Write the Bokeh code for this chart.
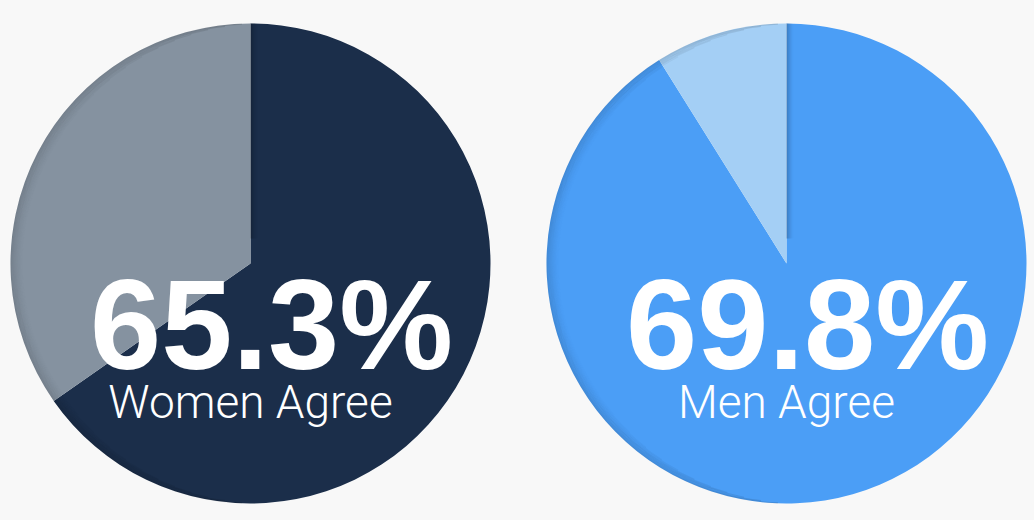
import numpy as np
from bokeh.plotting import figure
from bokeh.models import Range1d, ColumnDataSource
from bokeh.core.properties import value
from bokeh.embed import file_html
from bokeh.resources import INLINE

# ---- data ----
groups = ["Women", "Men"]
agree_labels = ["65.3%", "69.8%"]
subtitles = ["Women Agree", "Men Agree"]
pie_share = [65.3, 91.1]          # share of the main slice as drawn (%)
main_colors = ["#1b2e4a", "#4b9ef6"]
rest_colors = ["#8592a0", "#a4cff5"]

BG = "#f8f8f8"
W, H = 1034, 520
centers_x = [250, 786]
CY = 257
R = 240

p = figure(width=W, height=H, x_range=Range1d(0, W), y_range=Range1d(0, H),
           output_backend="svg", toolbar_location=None, min_border=0,
           x_axis_location=None, y_axis_location=None)
p.grid.visible = False
p.outline_line_color = None
p.background_fill_color = BG
p.border_fill_color = BG

start = np.pi / 2
ends = [start - 2 * np.pi * s / 100.0 for s in pie_share]

src = ColumnDataSource(dict(x=centers_x, y=[CY] * 2, start=[start] * 2, end=ends,
                            main=main_colors, rest=rest_colors,
                            num=agree_labels, sub=subtitles))

# main slice (clockwise from 12 o'clock)
p.wedge(x="x", y="y", radius=R, start_angle="start", end_angle="end", direction="clock",
        fill_color="main", line_color=None, source=src)
# remainder
p.wedge(x="x", y="y", radius=R, start_angle="end", end_angle="start", direction="clock",
        fill_color="rest", line_color=None, source=src)

# soft inner shadow along the left rim
D = 14
for cx in centers_x:
    for i in range(D):
        depth = i + 0.5
        phi = np.arccos(depth / D)
        a = 0.12 * (1 - depth / D) ** 1.6
        p.arc(x=cx, y=CY, radius=R - depth, start_angle=np.pi - phi, end_angle=np.pi + phi,
              direction="anticlock", line_color="black", line_alpha=a, line_width=1.1)

# shadow to the right of the vertical slice edge
for cx in centers_x:
    for k in range(8):
        off = k + 0.5
        a = 0.20 * (1 - k / 8) ** 2
        p.segment(x0=cx + off, y0=CY + 25, x1=cx + off, y1=CY + np.sqrt(R ** 2 - off ** 2),
                  line_color="black", line_alpha=a, line_width=1.1)

# big percentage
p.text(x="x", y=196, text="num", source=src, x_offset=21,
       text_align="center", text_baseline="alphabetic",
       text_font=value("Liberation Sans"), text_font_style="bold",
       text_font_size="128px", text_color="white")
# subtitle
p.text(x="x", y=119, text="sub", source=src,
       text_align="center", text_baseline="alphabetic",
       text_font=value("Roboto Light"), text_font_size="46px", text_color="white")

html = file_html(p, INLINE)
html = html.replace("<head>", "<head><style>html,body{background:%s;}</style>" % BG, 1)
open("out.html", "w").write(html)
